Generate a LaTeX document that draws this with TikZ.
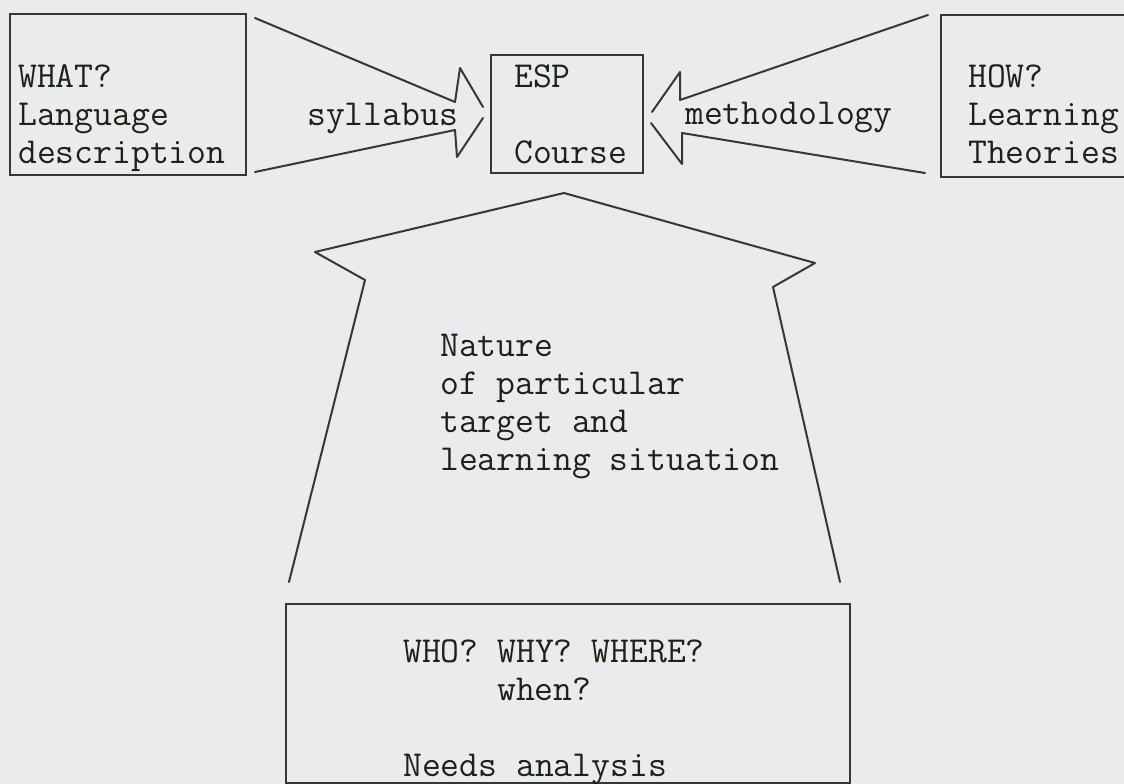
\documentclass[tikz,border=0pt]{standalone}
\usepackage{fontspec}
\definecolor{paper}{RGB}{234,235,237}
\definecolor{ink}{RGB}{55,55,55}
\definecolor{txt}{RGB}{28,34,24}
\begin{document}
\begin{tikzpicture}[x=1pt,y=-1pt,
  box/.style={draw=ink, line width=2pt, inner sep=0pt},
  lbl/.style={font=\ttfamily\fontsize{36.6}{38}\selectfont, text=txt, inner sep=0pt, anchor=base west, align=left},
  blockarrow/.style={draw=ink, line width=2pt, line join=round, line cap=round}]
\fill[paper] (0,0) rectangle (1124,784);
\useasboundingbox (0,0) rectangle (1124,784);
\clip (0,0) rectangle (1124,784);

% boxes
\node[box, minimum width=236pt, minimum height=161pt] (what) at (128,94.5) {};
\node[box, minimum width=152pt, minimum height=117pt] (esp) at (566.5,114) {};
\node[box, minimum width=189pt, minimum height=162pt] (how) at (1035.5,96) {};
\node[box, minimum width=564pt, minimum height=179pt] (needs) at (567.5,693) {};

% texts (anchor = baseline of last line)
\node[lbl] (whatT) at (18,163) {WHAT?\\Language\\description};
\node[lbl] (syl) at (307,125) {syllabus};
\node[lbl] (espT) at (514,163) {ESP\\\mbox{}\\Course};
\node[lbl] (meth) at (685,124) {methodology};
\node[lbl] (howT) at (968,163) {HOW?\\Learning\\Theories};
\node[lbl] (nat) at (440,470) {Nature\\of particular\\target and\\learning situation};
\node[lbl] (whoT) at (403,776) {WHO? WHY? WHERE?\\\hspace*{94pt}when?\\\mbox{}\\Needs analysis};

% syllabus arrow (what -> esp)
\draw[blockarrow] (255,18) -- (455,102) -- (460,68) -- (483,107);
\draw[blockarrow] (483,118) -- (457,157) -- (455,130) -- (255,172);

% methodology arrow (how -> esp)
\draw[blockarrow] (928,15) -- (680,100) -- (680,72) -- (652,112);
\draw[blockarrow] (651,123) -- (682,164) -- (682,133) -- (925,173);

% big arrow (needs -> esp)
\draw[blockarrow] (289,582) -- (365,280) -- (315,252) -- (564,193) -- (815,263) -- (773,287) -- (840,582);
\end{tikzpicture}
\end{document}
